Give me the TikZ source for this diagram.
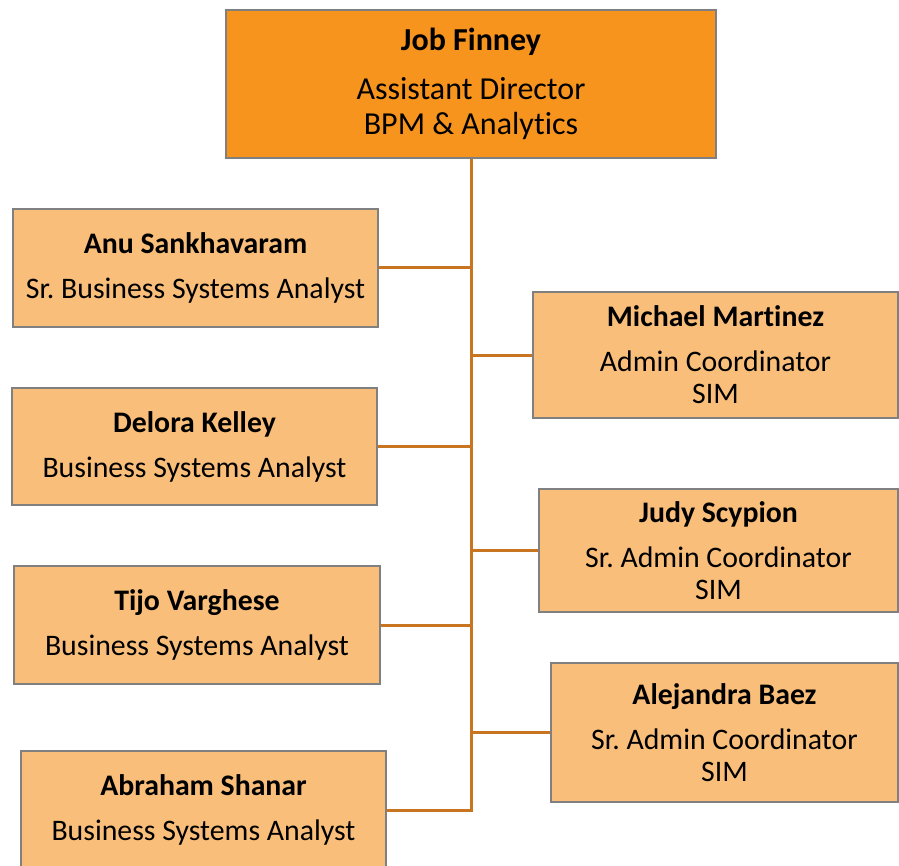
\documentclass[tikz,border=0pt]{standalone}
\usepackage{fontspec}
\setmainfont[Ligatures=NoCommon,RawFeature=-liga]{Carlito}
\definecolor{topor}{RGB}{247,148,30}
\definecolor{lightor}{RGB}{249,190,122}
\definecolor{conn}{RGB}{200,116,32}
\definecolor{edge}{RGB}{128,128,128}
\frenchspacing
\begin{document}
\begin{tikzpicture}[x=1pt,y=-1pt,
  box/.style={draw=edge,line width=1.2pt,fill=lightor,inner sep=0pt,align=center,
    font=\fontsize{29.8}{32}\selectfont},
  topbox/.style={box,fill=topor,font=\fontsize{32}{35}\selectfont},
  link/.style={draw=conn,line width=3pt}]
\useasboundingbox (0,0) rectangle (899,866);
\clip (0,0) rectangle (899,866);
\node[topbox,minimum width=490pt,minimum height=148pt] (top) at (471,84)
  {\textbf{Job Finney}\\[14pt]Assistant Director\\BPM \& Analytics};
\node[box,minimum width=365pt,minimum height=118pt] (anu) at (195.5,268)
  {\textbf{Anu Sankhavaram}\\[13pt]Sr. Business Systems Analyst};
\node[box,minimum width=365pt,minimum height=117pt] (delora) at (194.5,446.5)
  {\textbf{Delora Kelley}\\[13pt]Business Systems Analyst};
\node[box,minimum width=366pt,minimum height=118pt] (tijo) at (197,625)
  {\textbf{Tijo Varghese}\\[13pt]Business Systems Analyst};
\node[box,minimum width=365pt,minimum height=118pt] (abraham) at (203.5,810)
  {\textbf{Abraham Shanar}\\[13pt]Business Systems Analyst};
\node[box,minimum width=365pt,minimum height=126pt] (michael) at (715.5,355)
  {\textbf{Michael Martinez}\\[13pt]Admin Coordinator\\SIM};
\node[box,minimum width=359pt,minimum height=123pt] (judy) at (718.5,550.5)
  {\textbf{Judy Scypion}\\[13pt]Sr. Admin Coordinator\\SIM};
\node[box,minimum width=347pt,minimum height=139pt] (alejandra) at (724.5,732.5)
  {\textbf{Alejandra Baez}\\[13pt]Sr. Admin Coordinator\\SIM};
\coordinate (trunkend) at (abraham.east -| top.south);
\draw[link] (top.south) -- (trunkend) -- (abraham.east);
\draw[link] (anu.east) -- (anu.east -| top.south);
\draw[link] (delora.east) -- (delora.east -| top.south);
\draw[link] (tijo.east) -- (tijo.east -| top.south);
\draw[link] (michael.west) -- (michael.west -| top.south);
\draw[link] (judy.west) -- (judy.west -| top.south);
\draw[link] (alejandra.west) -- (alejandra.west -| top.south);
\end{tikzpicture}
\end{document}
